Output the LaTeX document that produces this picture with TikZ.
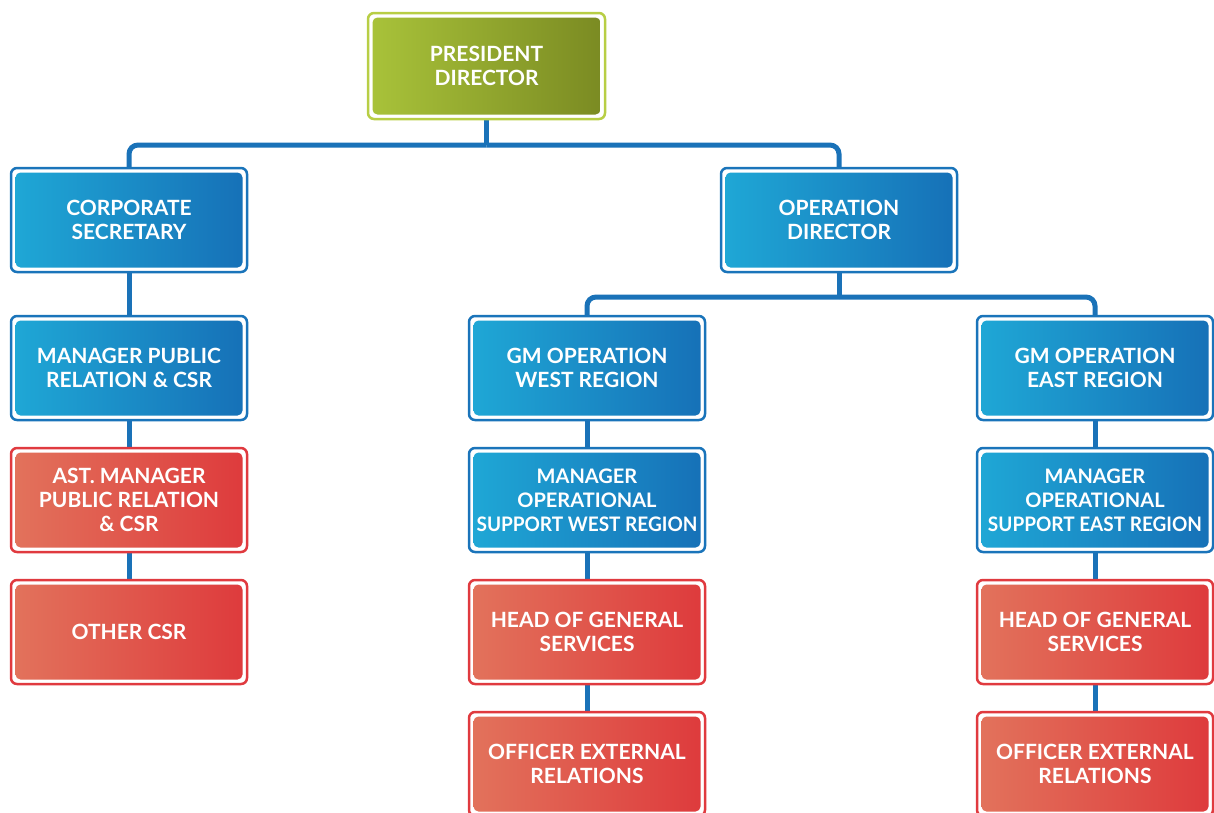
\documentclass[tikz,border=0pt]{standalone}
\usepackage{fontspec}
\setmainfont{Lato}
\usetikzlibrary{backgrounds}
\definecolor{bluefrm}{HTML}{1A74BA}
\definecolor{blueL}{HTML}{1FA8D6}
\definecolor{blueR}{HTML}{1670B7}
\definecolor{redfrm}{HTML}{E03A3F}
\definecolor{redL}{HTML}{E2735C}
\definecolor{redR}{HTML}{DE3A3C}
\definecolor{grnfrm}{HTML}{B8CE45}
\definecolor{grnL}{HTML}{A9C33A}
\definecolor{grnR}{HTML}{7A8A22}
\definecolor{linkc}{HTML}{1A72B8}
\newcommand{\tightline}[1]{\scalebox{0.95}[1]{#1}}
\tikzset{
  card/.style n args={3}{
    draw=#1, line width=2.5pt, fill=white, rounded corners=6pt,
    minimum width=236pt, minimum height=104pt, inner sep=0pt, outer sep=0pt,
    text=white, align=center, font=\bfseries\fontsize{21}{24}\selectfont,
    path picture={
      \shade[left color=#2, right color=#3, rounded corners=5pt]
        ([shift={(4.5pt,4.5pt)}]path picture bounding box.south west) rectangle
        ([shift={(-4.5pt,-4.5pt)}]path picture bounding box.north east);
    }},
  bluebox/.style={card={bluefrm}{blueL}{blueR}},
  redbox/.style={card={redfrm}{redL}{redR}},
  greenbox/.style={card={grnfrm}{grnL}{grnR}},
  smalltext/.style={font=\bfseries\fontsize{20}{24}\selectfont},
  link/.style={draw=linkc, line width=5pt, rounded corners=9pt},
}
\begin{document}
\begin{tikzpicture}[x=1pt,y=-1pt]
\useasboundingbox (0,0) rectangle (1214,812);

% top level
\node[greenbox, minimum width=237pt, minimum height=106pt] (pd) at (486.5,66) {PRESIDENT\\DIRECTOR};

% directors
\node[bluebox] (cs) at (129,220) {CORPORATE\\SECRETARY};
\node[bluebox] (od) at (839,220) {OPERATION\\DIRECTOR};

% corporate secretary branch
\node[bluebox] (mpr) at (129,368) {MANAGER PUBLIC\\RELATION \& CSR};
\node[redbox]  (amp) at (129,500) {AST. MANAGER\\PUBLIC RELATION\\\& CSR};
\node[redbox]  (ocsr) at (129,632) {OTHER CSR};

% west region branch
\node[bluebox] (gmw) at (587,368) {GM OPERATION\\WEST REGION};
\node[bluebox, smalltext] (mow) at (587,500) {MANAGER\\OPERATIONAL\\\tightline{SUPPORT WEST REGION}};
\node[redbox]  (hgw) at (587,632) {HEAD OF GENERAL\\SERVICES};
\node[redbox]  (oew) at (587,764) {OFFICER EXTERNAL\\RELATIONS};

% east region branch
\node[bluebox] (gme) at (1095,368) {GM OPERATION\\EAST REGION};
\node[bluebox, smalltext] (moe) at (1095,500) {MANAGER\\OPERATIONAL\\\tightline{SUPPORT EAST REGION}};
\node[redbox]  (hge) at (1095,632) {HEAD OF GENERAL\\SERVICES};
\node[redbox]  (oee) at (1095,764) {OFFICER EXTERNAL\\RELATIONS};

\coordinate (bus1) at (486.5,145);
\coordinate (bus2) at (839,297);

\begin{scope}[on background layer]
  \draw[link] (pd.south) -- (bus1);
  \draw[link] (bus1) -| (cs.north);
  \draw[link] (bus1) -| (od.north);
  \draw[link] (od.south) -- (bus2);
  \draw[link] (bus2) -| (gmw.north);
  \draw[link] (bus2) -| (gme.north);
  \draw[link] (cs.south) -- (mpr.north);
  \draw[link] (mpr.south) -- (amp.north);
  \draw[link] (amp.south) -- (ocsr.north);
  \draw[link] (gmw.south) -- (mow.north);
  \draw[link] (mow.south) -- (hgw.north);
  \draw[link] (hgw.south) -- (oew.north);
  \draw[link] (gme.south) -- (moe.north);
  \draw[link] (moe.south) -- (hge.north);
  \draw[link] (hge.south) -- (oee.north);
\end{scope}
\end{tikzpicture}
\end{document}
